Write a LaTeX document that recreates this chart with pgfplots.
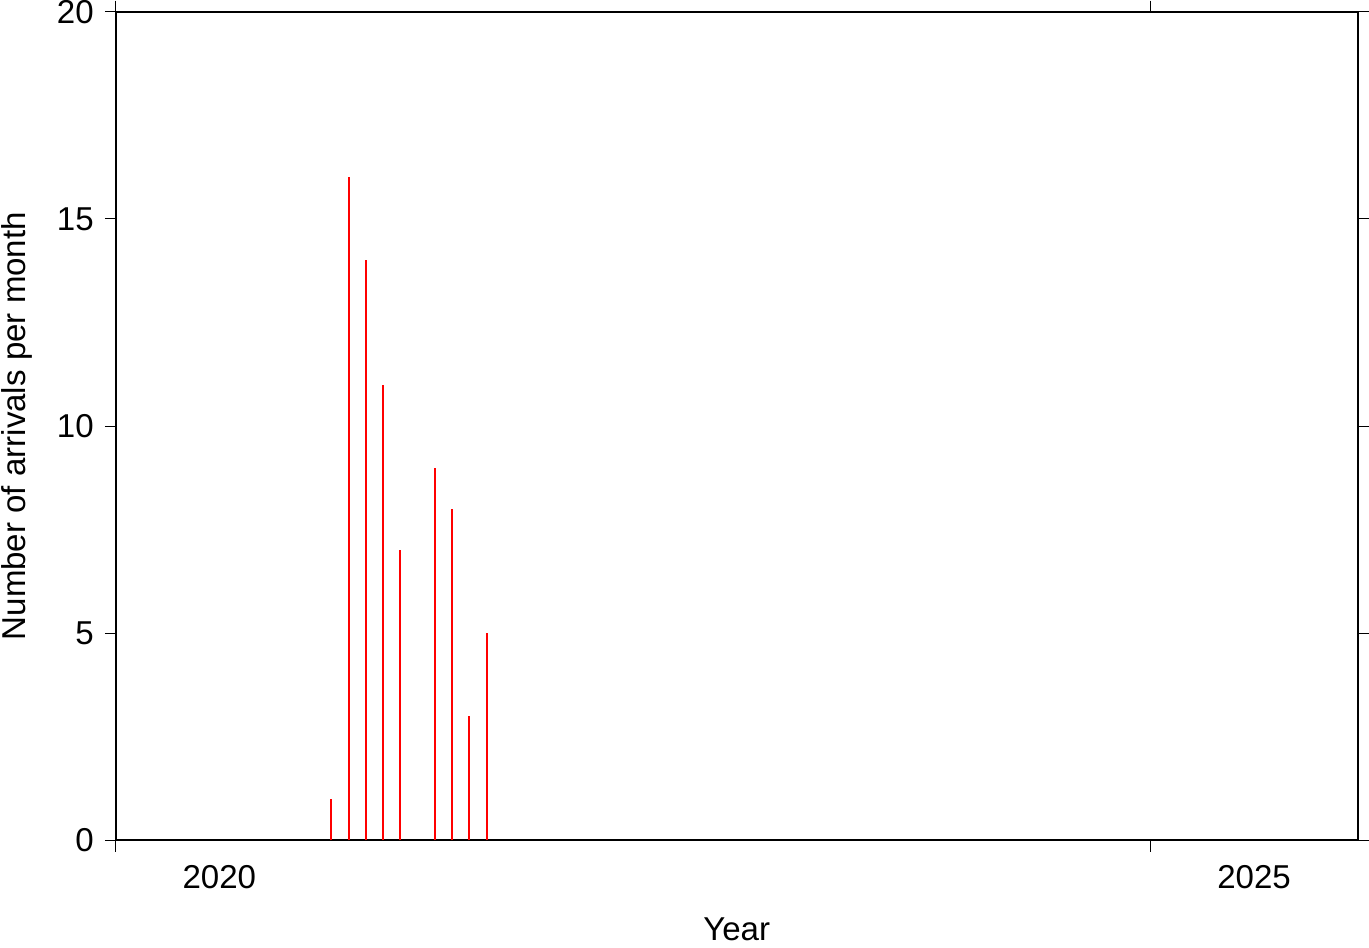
\documentclass[border=0pt]{standalone}
\usepackage{pgfplots}
\pgfplotsset{compat=1.18}
\usepackage{fontspec}
\setmainfont{Liberation Sans}
\begin{document}
\begin{tikzpicture}
\begin{axis}[
  scale only axis,
  width=619.5pt, height=413.5pt,
  xmin=2020, xmax=2026,
  ymin=0, ymax=20,
  axis line style={line width=1pt},
  every tick/.style={black, line width=0.5pt},
  tick align=outside,
  major tick length=5.5pt,
  xtick={2020,2025},
  xticklabels={},
  extra x ticks={2020.5,2025.5},
  extra x tick labels={2020,2025},
  extra x tick style={major tick length=0pt, tick style={draw=none}, xticklabel style={yshift=-9pt}},
  ytick={0,5,10,15,20},
  xtick pos=both, ytick pos=both,
  /pgf/number format/assume math mode=true,
  /pgf/number format/1000 sep={},
  tick label style={font=\fontsize{16.5}{19}\selectfont},
  label style={font=\fontsize{16.5}{19}\selectfont},
  yticklabel style={xshift=-2pt, inner ysep=0pt},
  xlabel={Year},
  ylabel={Number of arrivals per month},
  xlabel style={yshift=-2pt, text depth=0pt},
  ylabel style={yshift=7.5pt, inner sep=1pt},
]
\addplot[ycomb, red, line width=1pt, mark=none] coordinates {
  (2021.0417,1) (2021.125,16) (2021.2083,14) (2021.2917,11) (2021.375,7)
  (2021.5417,9) (2021.625,8) (2021.7083,3) (2021.7917,5)
};
\end{axis}
\end{tikzpicture}
\end{document}
